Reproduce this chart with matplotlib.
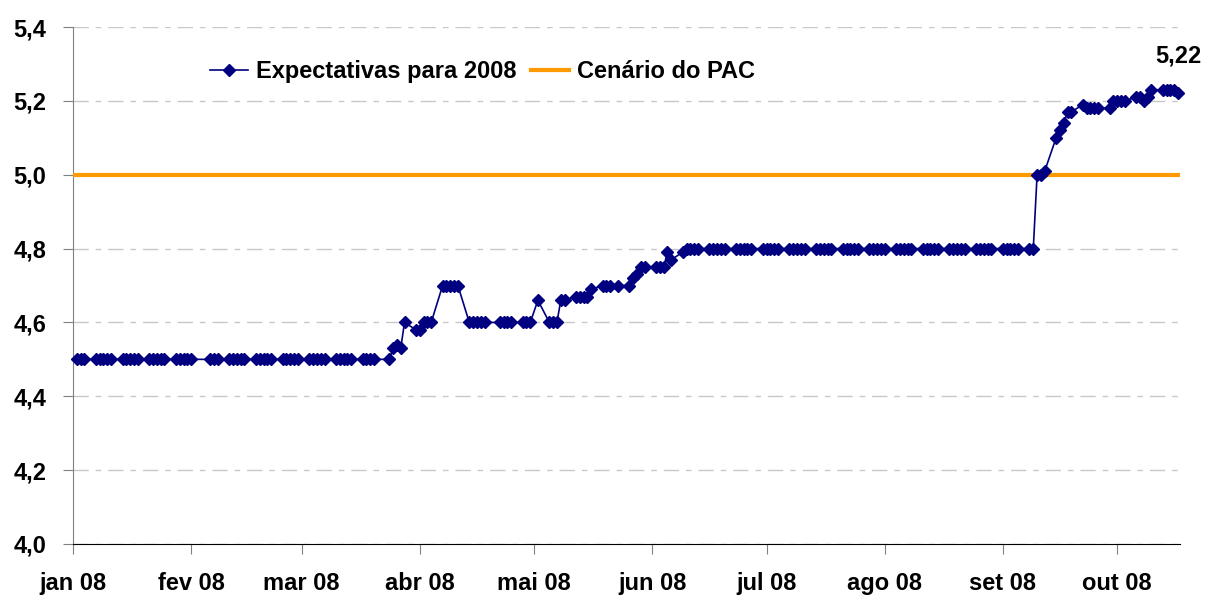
import matplotlib
matplotlib.use('Agg')
import matplotlib.pyplot as plt
import pandas as pd
from matplotlib.ticker import FuncFormatter

# feriados sem divulgacao
feriados = ['2008-02-04', '2008-02-05', '2008-03-21', '2008-04-21', '2008-05-01', '2008-05-22']

# expectativa de crescimento do PIB 2008, um valor por dia util (semanas seg-sex)
expectativas = [
    4.50, 4.50, 4.50,                    # 2-4 jan
    4.50, 4.50, 4.50, 4.50, 4.50,        # 7-11 jan
    4.50, 4.50, 4.50, 4.50, 4.50,        # 14-18 jan
    4.50, 4.50, 4.50, 4.50, 4.50,        # 21-25 jan
    4.50, 4.50, 4.50, 4.50, 4.50,        # 28 jan - 1 fev
    4.50, 4.50, 4.50,                    # 6-8 fev
    4.50, 4.50, 4.50, 4.50, 4.50,        # 11-15 fev
    4.50, 4.50, 4.50, 4.50, 4.50,        # 18-22 fev
    4.50, 4.50, 4.50, 4.50, 4.50,        # 25-29 fev
    4.50, 4.50, 4.50, 4.50, 4.50,        # 3-7 mar
    4.50, 4.50, 4.50, 4.50, 4.50,        # 10-14 mar
    4.50, 4.50, 4.50, 4.50,              # 17-20 mar
    4.50, 4.53, 4.54, 4.53, 4.60,        # 24-28 mar
    4.58, 4.58, 4.60, 4.60, 4.60,        # 31 mar - 4 abr
    4.70, 4.70, 4.70, 4.70, 4.70,        # 7-11 abr
    4.60, 4.60, 4.60, 4.60, 4.60,        # 14-18 abr
    4.60, 4.60, 4.60, 4.60,              # 22-25 abr
    4.60, 4.60, 4.60, 4.66,              # 28 abr - 2 mai
    4.60, 4.60, 4.60, 4.66, 4.66,        # 5-9 mai
    4.67, 4.67, 4.67, 4.67, 4.69,        # 12-16 mai
    4.70, 4.70, 4.70, 4.70,              # 19-23 mai
    4.70, 4.72, 4.73, 4.75, 4.75,        # 26-30 mai
    4.75, 4.75, 4.75, 4.79, 4.77,        # 2-6 jun
    4.79, 4.80, 4.80, 4.80, 4.80,        # 9-13 jun
    4.80, 4.80, 4.80, 4.80, 4.80,        # 16-20 jun
    4.80, 4.80, 4.80, 4.80, 4.80,        # 23-27 jun
    4.80, 4.80, 4.80, 4.80, 4.80,        # 30 jun - 4 jul
    4.80, 4.80, 4.80, 4.80, 4.80,        # 7-11 jul
    4.80, 4.80, 4.80, 4.80, 4.80,        # 14-18 jul
    4.80, 4.80, 4.80, 4.80, 4.80,        # 21-25 jul
    4.80, 4.80, 4.80, 4.80, 4.80,        # 28 jul - 1 ago
    4.80, 4.80, 4.80, 4.80, 4.80,        # 4-8 ago
    4.80, 4.80, 4.80, 4.80, 4.80,        # 11-15 ago
    4.80, 4.80, 4.80, 4.80, 4.80,        # 18-22 ago
    4.80, 4.80, 4.80, 4.80, 4.80,        # 25-29 ago
    4.80, 4.80, 4.80, 4.80, 4.80,        # 1-5 set
    4.80, 4.80, 5.00, 5.00, 5.01,        # 8-12 set
    5.10, 5.12, 5.14, 5.17, 5.17,        # 15-19 set
    5.19, 5.18, 5.18, 5.18, 5.18,        # 22-26 set
    5.18, 5.20, 5.20, 5.20, 5.20,        # 29 set - 3 out
    5.21, 5.21, 5.20, 5.21, 5.23,        # 6-10 out
    5.23, 5.23, 5.23, 5.23, 5.22,        # 13-17 out
]
cenario_pac = 5.0

meses = ['jan 08', 'fev 08', 'mar 08', 'abr 08', 'mai 08',
         'jun 08', 'jul 08', 'ago 08', 'set 08', 'out 08']
yticks = [4.0, 4.2, 4.4, 4.6, 4.8, 5.0, 5.2, 5.4]

dias = pd.bdate_range('2008-01-02', '2008-10-17')
dias = dias[~dias.isin(pd.to_datetime(feriados))]

plt.rcParams['font.family'] = ['Liberation Sans', 'DejaVu Sans']
plt.rcParams['font.weight'] = 'bold'
fsize = 17

fig = plt.figure(figsize=(12.09, 5.98), dpi=100)
ax = fig.add_axes([73/1209, 1 - 544/598, (1180 - 73)/1209, (544 - 27)/598])

ax.plot(dias, expectativas, color='#000080', lw=1.2, marker='D', ms=6.3,
        label='Expectativas para 2008', clip_on=False, zorder=4)
ax.axhline(cenario_pac, color='#FF9900', lw=3, label='Cenário do PAC', zorder=3)

ax.annotate('5,22', xy=(dias[-1], expectativas[-1]), xytext=(0, 22),
            textcoords='offset points', ha='center', va='baseline',
            fontsize=fsize, fontweight='bold', annotation_clip=False)

# eixos
ax.set_xlim(pd.Timestamp('2008-01-01'), pd.Timestamp('2008-10-17 12:00'))
ax.set_ylim(4.0, 5.4)
ax.set_yticks(yticks)
ax.yaxis.set_major_formatter(FuncFormatter(lambda v, p: ('%.1f' % v).replace('.', ',')))
ax.set_xticks(pd.date_range('2008-01-01', '2008-10-01', freq='MS'))
ax.set_xticklabels(meses)

ax.yaxis.grid(True, color='#c8c8c8', lw=1, linestyle=(0, (11, 5, 4, 5)))
ax.set_axisbelow(True)

for s in ['top', 'right']:
    ax.spines[s].set_visible(False)
ax.spines['left'].set_color('#808080')
ax.spines['bottom'].set_color('black')
ax.tick_params(axis='y', direction='out', length=7, color='#808080', pad=12, labelsize=fsize)
ax.tick_params(axis='x', direction='out', length=7, color='#808080', pad=13, labelsize=fsize)

ax.legend(loc='center', bbox_to_anchor=(0.37, 0.913), ncol=2, frameon=False,
          fontsize=fsize, handlelength=1.6, columnspacing=0.6, handletextpad=0.35)

fig.savefig('out.png', dpi=100)
